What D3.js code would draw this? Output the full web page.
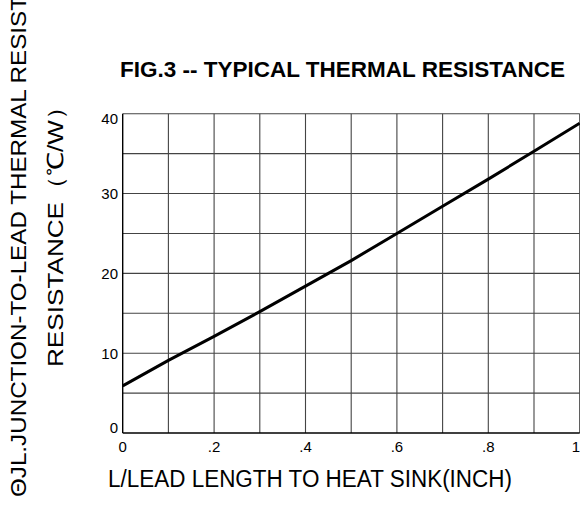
<!DOCTYPE html>
<html>
<head>
<meta charset="utf-8">
<script src="https://cdn.jsdelivr.net/npm/d3@7"></script>
<style>
  html, body { margin: 0; padding: 0; background: #fff; }
  svg { display: block; font-family: "Liberation Sans", Arial, sans-serif; }
</style>
</head>
<body>
<svg id="chart" width="580" height="508"></svg>
<script>
// ---- data ----
const lengthInch = [0, 0.1, 0.2, 0.3, 0.4, 0.5, 0.6, 0.7, 0.8, 0.9, 1.0];
const resistance = [5.9, 9.1, 12.1, 15.2, 18.4, 21.6, 25.0, 28.4, 31.8, 35.3, 38.8];
const xTickValues = [0, 0.2, 0.4, 0.6, 0.8, 1.0];
const xTickLabels = ["0", ".2", ".4", ".6", ".8", "1"];
const yTickValues = [0, 10, 20, 30, 40];
const yTickLabels = ["0", "10", "20", "30", "40"];
const xGrid = [0.1, 0.2, 0.3, 0.4, 0.5, 0.6, 0.7, 0.8, 0.9, 1.0];
const yGrid = [5, 10, 15, 20, 25, 30, 35, 40];
const titleText = "FIG.3 -- TYPICAL THERMAL RESISTANCE";
const xTitle = "L/LEAD LENGTH TO HEAT SINK(INCH)";
const yTitle1 = "ΘJL.JUNCTION-TO-LEAD THERMAL RESIST,";
const yTitle2 = "RESISTANCE（℃/W）";

const svg = d3.select("#chart");
const x = d3.scaleLinear().domain([0, 1]).range([122.7, 579.7]);
const y = d3.scaleLinear().domain([0, 40]).range([433, 113.7]);

// grid
const g = svg.append("g");
g.selectAll(".vg").data(xGrid).enter().append("line")
  .attr("x1", d => x(d)).attr("x2", d => x(d))
  .attr("y1", y(0)).attr("y2", y(40))
  .attr("stroke", "#444").attr("stroke-width", 1.1);
g.selectAll(".hg").data(yGrid).enter().append("line")
  .attr("x1", x(0)).attr("x2", x(1))
  .attr("y1", d => y(d)).attr("y2", d => y(d))
  .attr("stroke", "#444").attr("stroke-width", 1.1);

// axes lines
svg.append("line").attr("x1", x(0)).attr("x2", x(0)).attr("y1", y(0)).attr("y2", y(40))
  .attr("stroke", "#000").attr("stroke-width", 1.4);
svg.append("line").attr("x1", x(0)).attr("x2", x(1)).attr("y1", y(0)).attr("y2", y(0))
  .attr("stroke", "#000").attr("stroke-width", 1.4);

// data line
const line = d3.line().x((d, i) => x(lengthInch[i])).y(d => y(d));
svg.append("path").datum(resistance)
  .attr("d", line).attr("fill", "none")
  .attr("stroke", "#000").attr("stroke-width", 3);

// tick labels
svg.selectAll(".xt").data(xTickValues).enter().append("text")
  .attr("x", d => d === 1 ? 580 : x(d)).attr("y", 452)
  .attr("text-anchor", d => d === 1 ? "end" : "middle").attr("font-size", 15)
  .text((d, i) => xTickLabels[i]);
svg.selectAll(".yt").data(yTickValues).enter().append("text")
  .attr("x", 118)
  .attr("y", d => d === 0 ? y(d) - 0.5 : (d === 40 ? y(d) + 10 : y(d) + 5.5))
  .attr("text-anchor", "end").attr("font-size", 15)
  .text((d, i) => yTickLabels[i]);

// titles
svg.append("text").attr("x", 120).attr("y", 77)
  .attr("font-size", 22).attr("font-weight", "bold")
  .attr("textLength", 445).attr("lengthAdjust", "spacingAndGlyphs")
  .text(titleText);
svg.append("text").attr("x", 108).attr("y", 487)
  .attr("font-size", 23)
  .attr("textLength", 404).attr("lengthAdjust", "spacingAndGlyphs")
  .text(xTitle);
svg.append("text").attr("transform", "translate(26,497) rotate(-90)")
  .attr("font-size", 22)
  .attr("textLength", 505).attr("lengthAdjust", "spacingAndGlyphs")
  .text(yTitle1);
svg.append("text").attr("transform", "translate(63,367) rotate(-90)")
  .attr("font-size", 22)
  .attr("textLength", 273).attr("lengthAdjust", "spacingAndGlyphs")
  .text(yTitle2);
</script>
</body>
</html>
